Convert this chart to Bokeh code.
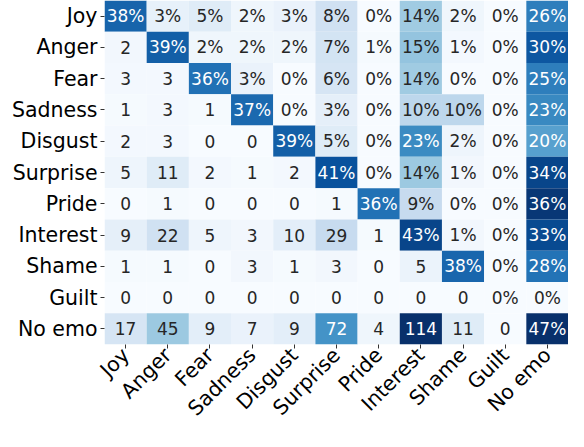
import math
from bokeh.plotting import figure
from bokeh.models import ColumnDataSource, LinearColorMapper
from bokeh.palettes import Blues256
from bokeh.core.properties import value
from bokeh.embed import file_html
from bokeh.resources import INLINE

labels = ["Joy", "Anger", "Fear", "Sadness", "Disgust", "Surprise",
          "Pride", "Interest", "Shame", "Guilt", "No emo"]

# Cell annotations (row = true label, column = predicted label)
text_joy      = ["38%", "3%", "5%", "2%", "3%", "8%", "0%", "14%", "2%", "0%", "26%"]
text_anger    = ["2", "39%", "2%", "2%", "2%", "7%", "1%", "15%", "1%", "0%", "30%"]
text_fear     = ["3", "3", "36%", "3%", "0%", "6%", "0%", "14%", "0%", "0%", "25%"]
text_sadness  = ["1", "3", "1", "37%", "0%", "3%", "0%", "10%", "10%", "0%", "23%"]
text_disgust  = ["2", "3", "0", "0", "39%", "5%", "0%", "23%", "2%", "0%", "20%"]
text_surprise = ["5", "11", "2", "1", "2", "41%", "0%", "14%", "1%", "0%", "34%"]
text_pride    = ["0", "1", "0", "0", "0", "1", "36%", "9%", "0%", "0%", "36%"]
text_interest = ["9", "22", "5", "3", "10", "29", "1", "43%", "1%", "0%", "33%"]
text_shame    = ["1", "1", "0", "3", "1", "3", "0", "5", "38%", "0%", "28%"]
text_guilt    = ["0", "0", "0", "0", "0", "0", "0", "0", "0", "0%", "0%"]
text_noemo    = ["17", "45", "9", "7", "9", "72", "4", "114", "11", "0", "47%"]

# Colour intensity of each cell (0 = lightest, 1 = darkest)
shade_joy      = [0.80, 0.08, 0.12, 0.04, 0.07, 0.20, 0.00, 0.37, 0.04, 0.00, 0.70]
shade_anger    = [0.03, 0.82, 0.04, 0.04, 0.04, 0.18, 0.01, 0.40, 0.02, 0.00, 0.85]
shade_fear     = [0.02, 0.02, 0.75, 0.07, 0.00, 0.17, 0.00, 0.37, 0.00, 0.00, 0.70]
shade_sadness  = [0.01, 0.02, 0.01, 0.78, 0.00, 0.09, 0.00, 0.28, 0.28, 0.00, 0.66]
shade_disgust  = [0.02, 0.02, 0.00, 0.00, 0.82, 0.12, 0.00, 0.65, 0.05, 0.00, 0.56]
shade_surprise = [0.05, 0.12, 0.02, 0.01, 0.02, 0.87, 0.00, 0.38, 0.03, 0.00, 0.92]
shade_pride    = [0.00, 0.01, 0.00, 0.00, 0.00, 0.01, 0.75, 0.25, 0.00, 0.00, 0.97]
shade_interest = [0.09, 0.20, 0.05, 0.03, 0.10, 0.25, 0.01, 0.92, 0.03, 0.00, 0.90]
shade_shame    = [0.01, 0.01, 0.00, 0.03, 0.01, 0.03, 0.00, 0.06, 0.79, 0.00, 0.74]
shade_guilt    = [0.00, 0.00, 0.00, 0.00, 0.00, 0.00, 0.00, 0.00, 0.00, 0.00, 0.00]
shade_noemo    = [0.17, 0.38, 0.10, 0.07, 0.10, 0.62, 0.04, 1.00, 0.12, 0.00, 1.00]

row_texts = [text_joy, text_anger, text_fear, text_sadness, text_disgust, text_surprise,
             text_pride, text_interest, text_shame, text_guilt, text_noemo]
row_shades = [shade_joy, shade_anger, shade_fear, shade_sadness, shade_disgust, shade_surprise,
              shade_pride, shade_interest, shade_shame, shade_guilt, shade_noemo]

xs, ys, txt, shd, tcol = [], [], [], [], []
for r, lab in enumerate(labels):
    for c, col in enumerate(labels):
        xs.append(col)
        ys.append(lab)
        txt.append(row_texts[r][c])
        s = row_shades[r][c]
        shd.append(s)
        tcol.append("#ffffff" if s > 0.5 else "#262626")

src = ColumnDataSource(dict(x=xs, y=ys, text=txt, shade=shd, tcol=tcol))

mapper = LinearColorMapper(palette=list(Blues256), low=1.0, high=0.0)

p = figure(width=568, height=431, x_range=labels, y_range=labels[::-1],
           output_backend="svg", toolbar_location=None,
           min_border_left=104, min_border_right=0, min_border_top=0, min_border_bottom=0)

p.rect(x="x", y="y", width=1, height=1, source=src,
       fill_color={"field": "shade", "transform": mapper}, line_color=None)
p.text(x="x", y="y", text="text", source=src, text_color="tcol",
       text_align="center", text_baseline="middle",
       text_font=value("DejaVu Sans"), text_font_size="17px")

p.outline_line_color = None
p.grid.grid_line_color = None
for ax in (p.xaxis, p.yaxis):
    ax.axis_line_color = None
    ax.major_tick_in = 0
    ax.major_tick_out = 4
    ax.major_tick_line_color = "#333333"
    ax.major_label_text_font = "DejaVu Sans"
    ax.major_label_text_font_size = "20.5px"
    ax.major_label_text_color = "#000000"
    ax.major_label_standoff = 3
p.xaxis.major_label_orientation = math.pi / 4

open("out.html", "w").write(file_html(p, INLINE))
